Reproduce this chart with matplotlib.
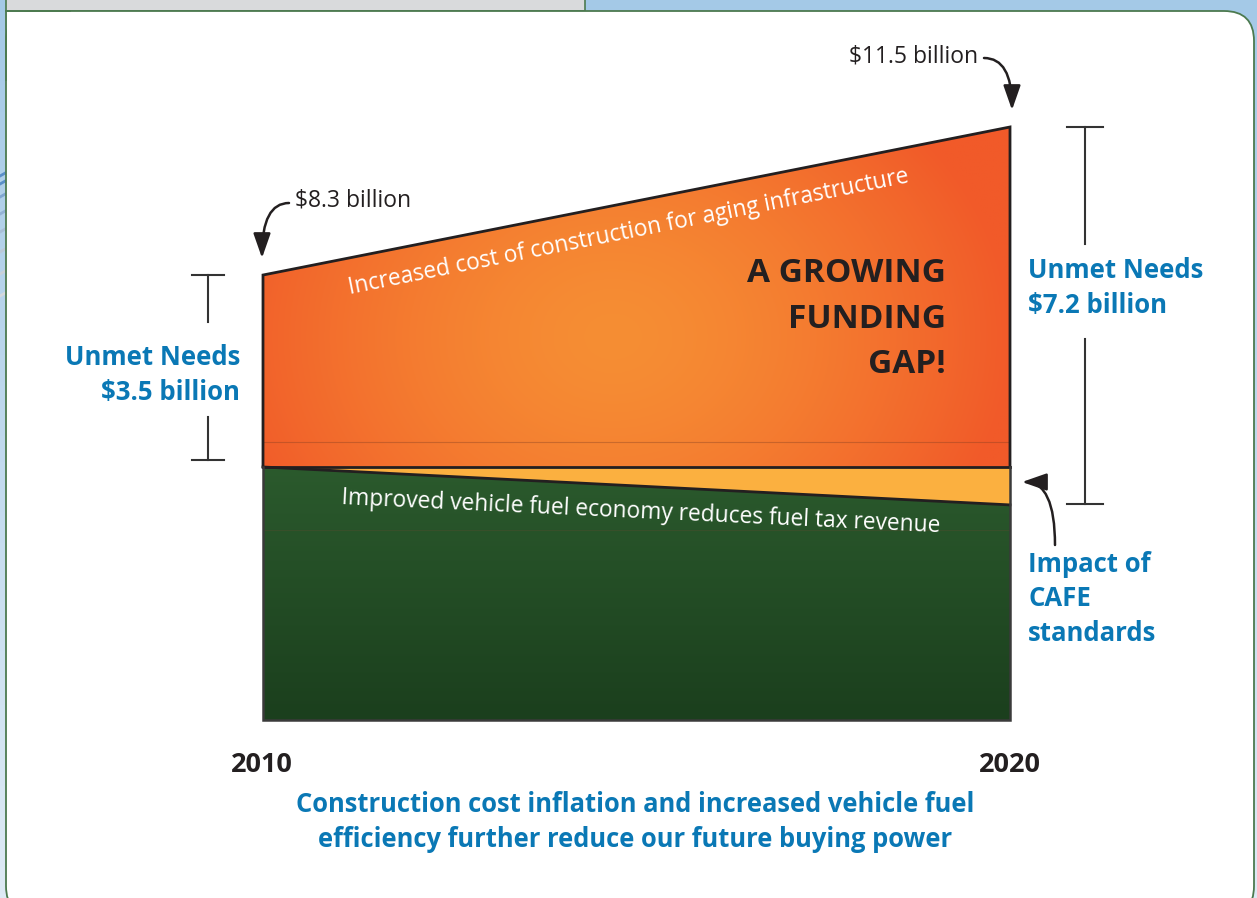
import matplotlib
matplotlib.use("Agg")
import matplotlib.pyplot as plt
import numpy as np
from matplotlib.patches import Polygon, FancyBboxPatch, Rectangle

plt.rcParams['font.family'] = ['Open Sans', 'DejaVu Sans']

# data (billions)
years = [2010, 2020]
total_need = [8.3, 11.5]           # top of the orange wedge
revenue_flat = [4.15, 4.15]        # revenue without CAFE
revenue_cafe = [4.15, 3.33]        # revenue with improved fuel economy
guide_upper = [4.69, 4.69]         # faint guide lines in the original
guide_lower = [2.79, 2.79]
unmet_labels = ["Unmet Needs\n$3.5 billion", "Unmet Needs\n$7.2 billion"]
need_labels = ["$8.3 billion", "$11.5 billion"]
y_floor = -1.32

W, H = 1257, 898
fig = plt.figure(figsize=(W / 100, H / 100), dpi=100)

# background / frame, pixel coords
bg = fig.add_axes([0, 0, 1, 1])
bg.set_xlim(0, W)
bg.set_ylim(H, 0)
bg.axis('off')
grad = np.linspace(0, 1, 200)[:, None]
c_top = np.array([164, 201, 231]) / 255
c_bot = np.array([222, 234, 245]) / 255
bgimg = c_top + (c_bot - c_top) * grad[..., None]
bg.imshow(np.repeat(bgimg, 2, axis=1), extent=(0, W, H, 0), aspect='auto', zorder=0)
for yy, col in zip([172, 180, 193, 210, 228, 248, 270, 292],
                   ['#5a8fc8', '#5a8fc8', '#7fa6d0', '#93b2d6', '#a9bfd8', '#bcc9d8', '#c9d1d9', '#d3d8dc']):
    bg.plot([0, 7], [yy + 4, yy], color=col, lw=2, zorder=1)
bg.add_patch(Rectangle((6, -2), 579, 13, facecolor='#d9dadc', edgecolor='#4c7a4f', lw=1.2, zorder=2))
bg.add_patch(FancyBboxPatch((6, 11), 1248, 905, boxstyle="round,pad=0,rounding_size=30",
                            facecolor='white', edgecolor='#4c7a4f', lw=1.3, zorder=3))
# square top-left corner
bg.add_patch(Rectangle((6.8, 11.8), 60, 60, facecolor='white', edgecolor='none', zorder=4))
bg.plot([6, 6, 70], [80, 11, 11], color='#4c7a4f', lw=1.3, zorder=5, solid_joinstyle='miter')

# chart
ax = fig.add_axes([263 / W, 1 - 720 / H, 747 / W, 593 / H])
ax.patch.set_alpha(0)
ax.set_xlim(years[0], years[1])
ax.set_ylim(y_floor, total_need[1])
ax.axis('off')

# orange wedge with radial gradient
orange = Polygon([(years[0], revenue_flat[0]), (years[0], total_need[0]),
                  (years[1], total_need[1]), (years[1], revenue_flat[1])],
                 closed=True, facecolor='none', edgecolor='none')
ax.add_patch(orange)
nx, ny = 400, 320
gx, gy = np.meshgrid(np.linspace(0, 747, nx), np.linspace(0, 593, ny))
cx, cy = 350, 210  # pixel offset inside chart, from top-left
r = np.sqrt(((gx - cx) / 400) ** 2 + ((gy - cy) / 320) ** 2)
r = np.clip(r, 0, 1) ** 1.5
c_in = np.array([246, 142, 52]) / 255
c_out = np.array([241, 90, 41]) / 255
rad = c_in + (c_out - c_in) * r[..., None]
im = ax.imshow(rad, extent=(years[0], years[1], y_floor, total_need[1]), origin='upper',
               aspect='auto', zorder=1)
im.set_clip_path(orange)

# yellow CAFE wedge
ax.fill_between(years, revenue_cafe, revenue_flat, facecolor='#fbb040', edgecolor='none', zorder=1)

# green revenue with vertical gradient
green = Polygon([(years[0], y_floor), (years[0], revenue_cafe[0]),
                 (years[1], revenue_cafe[1]), (years[1], y_floor)],
                closed=True, facecolor='none', edgecolor='none')
ax.add_patch(green)
g_top = np.array([43, 90, 45]) / 255
g_bot = np.array([27, 63, 29]) / 255
gg = np.linspace(0, 1, 200)[:, None, None]
gimg = np.repeat(g_top + (g_bot - g_top) * gg, 2, axis=1)
im2 = ax.imshow(gimg, extent=(years[0], years[1], y_floor, revenue_cafe[0]), origin='upper',
                aspect='auto', zorder=1)
im2.set_clip_path(green)

# faint guides
ax.plot(years, guide_upper, color='#7a3a20', lw=0.8, alpha=0.35, zorder=2)
ax.plot(years, guide_lower, color='#5a4a30', lw=0.8, alpha=0.35, zorder=2)

# outlines
dark = '#231f20'
ax.plot([years[0], years[0], years[1], years[1]],
        [revenue_flat[0], total_need[0], total_need[1], revenue_flat[1]],
        color=dark, lw=2, zorder=3, clip_on=False, solid_joinstyle='miter')
ax.plot(years, revenue_flat, color=dark, lw=2, zorder=3, clip_on=False)
ax.plot(years, revenue_cafe, color=dark, lw=2, zorder=3, clip_on=False)
ax.plot([years[0], years[0], years[1], years[1]],
        [revenue_flat[0], y_floor, y_floor, revenue_flat[1]],
        color='#3a3a3a', lw=1.8, zorder=3, clip_on=False, solid_joinstyle='miter')

# overlay for labels, pixel coords
ov = fig.add_axes([0, 0, 1, 1])
ov.set_xlim(0, W)
ov.set_ylim(H, 0)
ov.axis('off')
ov.patch.set_alpha(0)

blue = '#0a78b5'
ov.text(629, 232, "Increased cost of construction for aging infrastructure", color='white',
        fontsize=16.4, rotation=11.3, rotation_mode='anchor', ha='center', va='center')
ov.text(641, 512, "Improved vehicle fuel economy reduces fuel tax revenue", color='white',
        fontsize=16.4, rotation=-2.7, rotation_mode='anchor', ha='center', va='center')
ov.text(946, 319, "A GROWING\nFUNDING\nGAP!", color=dark, fontsize=24, fontweight='bold',
        ha='right', va='center', linespacing=1.5)

ov.text(240, 375, unmet_labels[0], color=blue, fontsize=18.5, fontweight='bold',
        ha='right', va='center', linespacing=1.35)
ov.text(1028, 288, unmet_labels[1], color=blue, fontsize=18.5, fontweight='bold',
        ha='left', va='center', linespacing=1.35)
ov.text(1028, 599, "Impact of\nCAFE\nstandards", color=blue, fontsize=18.5, fontweight='bold',
        ha='left', va='center', linespacing=1.35)

ov.text(262, 765, "2010", color=dark, fontsize=19.5, fontweight='bold', ha='center', va='center')
ov.text(1010, 765, "2020", color=dark, fontsize=19.5, fontweight='bold', ha='center', va='center')
ov.text(635, 822, "Construction cost inflation and increased vehicle fuel\nefficiency further reduce our future buying power",
        color=blue, fontsize=18.4, fontweight='bold', ha='center', va='center', linespacing=1.42)

ov.text(295, 201, need_labels[0], color=dark, fontsize=16.5, ha='left', va='center')
ov.text(978, 56, need_labels[1], color=dark, fontsize=16.5, ha='right', va='center')

arrow = dict(arrowstyle='-|>,head_length=1.0,head_width=0.35', color=dark, lw=1.8,
             shrinkA=0, shrinkB=0, mutation_scale=15)
ov.annotate("", xy=(262, 258), xytext=(289, 203),
            arrowprops=dict(arrow, connectionstyle='angle3,angleA=180,angleB=90'))
ov.annotate("", xy=(1012, 110), xytext=(984, 58),
            arrowprops=dict(arrow, connectionstyle='angle3,angleA=0,angleB=90'))
ov.annotate("", xy=(1022, 482), xytext=(1055, 545),
            arrowprops=dict(arrow, connectionstyle='angle3,angleA=90,angleB=0'))

# brackets
def bracket(x, y0, y1, gap0, gap1, half=16):
    ov.plot([x - half, x + half], [y0, y0], color='#333333', lw=1.5)
    ov.plot([x - half, x + half], [y1, y1], color='#333333', lw=1.5)
    ov.plot([x, x], [y0, gap0], color='#333333', lw=1.5)
    ov.plot([x, x], [gap1, y1], color='#333333', lw=1.5)

bracket(208, 275, 460, 322, 417)
bracket(1085, 127, 504, 244, 339, half=18)

fig.savefig("out.png", dpi=100)
